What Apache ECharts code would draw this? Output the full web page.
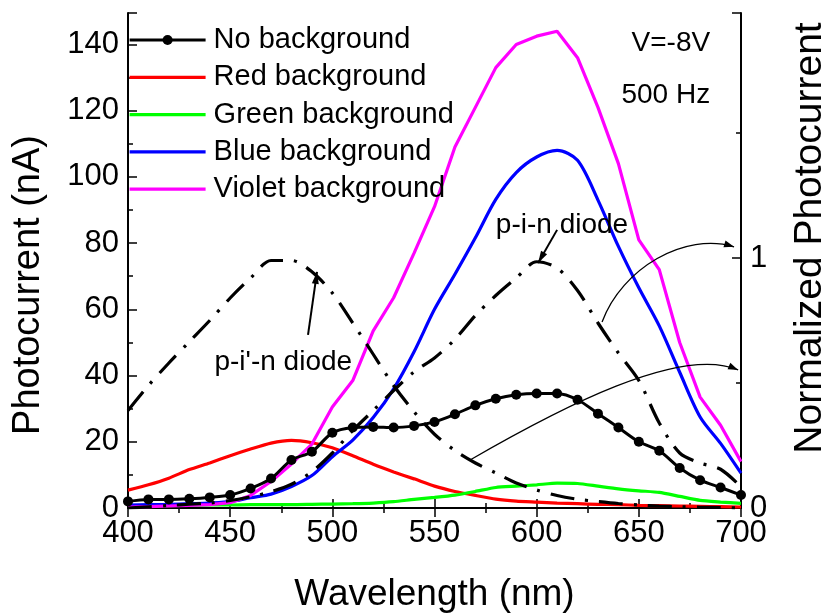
<!DOCTYPE html>
<html><head><meta charset="utf-8">
<script src="https://cdn.jsdelivr.net/npm/echarts@6/dist/echarts.min.js"></script>
<style>html,body{margin:0;padding:0;background:#fff}#c{width:831px;height:615px}</style>
</head><body><div id="c"></div>
<script>
// ---- data ----
const wavelengths = [400,410,420,430,440,450,460,470,480,490,500,510,520,530,540,550,560,570,580,590,600,610,620,630,640,650,660,670,680,690,700];
const noBackground = [2.0,2.6,2.6,2.8,3.2,3.9,5.9,8.9,14.5,17.0,22.7,24.3,24.5,24.3,24.8,26.0,28.3,31.0,33.0,34.2,34.6,34.6,32.7,28.5,24.3,20.0,17.3,12.1,8.4,6.2,3.9];
const redBackground = [5.4,7.0,9.0,11.6,13.6,15.8,17.8,19.6,20.4,19.7,18.2,15.8,13.2,10.9,8.8,6.6,5.0,3.8,2.7,2.1,1.8,1.5,1.3,1.1,1.0,0.8,0.7,0.6,0.5,0.4,0.3];
const greenBackground = [0.5,0.6,0.7,0.8,0.9,0.9,1.0,1.0,1.0,1.1,1.2,1.3,1.5,1.9,2.6,3.2,3.9,5.0,6.2,6.6,7.0,7.5,7.4,6.6,5.8,5.2,4.7,3.5,2.3,1.8,1.4];
const blueBackground = [0.9,1.0,1.1,1.3,1.5,1.9,3.1,4.2,6.5,9.8,15.5,20.5,27.3,36.0,47.2,60.0,70.6,81.6,93.2,101.3,106.0,108.0,105.0,93.0,79.0,66.5,55.0,41.0,27.5,19.5,10.5];
const violetBackground = [0.3,0.4,0.6,0.8,1.0,1.6,3.8,8.0,13.3,19.3,30.5,38.5,53.5,63.5,77.0,91.0,109.0,121.0,133.0,140.0,142.5,144.0,136.0,121.0,104.0,81.0,72.0,50.0,33.5,25.0,14.0];
const pinNormalized = [0.0,0.005,0.01,0.015,0.02,0.03,0.045,0.065,0.095,0.145,0.22,0.31,0.39,0.47,0.545,0.60,0.675,0.77,0.85,0.92,0.985,0.96,0.87,0.74,0.62,0.51,0.34,0.22,0.18,0.155,0.085];
const pipnNormalized = [0.39,0.49,0.58,0.665,0.75,0.84,0.92,0.99,0.99,0.945,0.86,0.74,0.615,0.49,0.385,0.295,0.23,0.18,0.14,0.1,0.072,0.05,0.035,0.026,0.018,0.012,0.008,0.005,0.003,0.002,0.0];
const legendNames = ['No background','Red background','Green background','Blue background','Violet background'];
const seriesColors = ['#000000','#ff0000','#00ff00','#0000ff','#ff00ff'];

const FONT = "'Liberation Sans', Arial, sans-serif";
const pair = vals => wavelengths.map((w, i) => [w, vals[i]]);
const NOFILL = 'rgba(0,0,0,0)';

const chart = echarts.init(document.getElementById('c'), null, {renderer: 'canvas'});

const option = {
  animation: false,
  backgroundColor: '#fff',
  grid: {left: 128, right: 90, top: 13, bottom: 107, containLabel: false, outerBoundsMode: 'none'},
  legend: {
    data: legendNames,
    orient: 'vertical', left: 128, top: 25, padding: 0,
    itemWidth: 76, itemHeight: 12.5, itemGap: 7.3,
    lineStyle: {width: 'inherit'},
    textStyle: {fontFamily: FONT, fontSize: 29, color: '#000', lineHeight: 30, padding: [0, 0, 0, 3]}
  },
  xAxis: [{
    type: 'value', min: 400, max: 700, interval: 50, position: 'bottom',
    name: 'Wavelength (nm)', nameLocation: 'middle', nameGap: 68,
    nameTextStyle: {fontFamily: FONT, fontSize: 37, color: '#000'},
    axisLine: {lineStyle: {color: '#000', width: 2}},
    axisTick: {inside: true, length: 9, lineStyle: {color: '#000', width: 1.5}},
    minorTick: {show: true, splitNumber: 2, length: 5, lineStyle: {color: '#000', width: 1.5}},
    axisLabel: {fontFamily: FONT, fontSize: 31, color: '#000', margin: 10},
    splitLine: {show: false}
  }, {
    type: 'value', min: 400, max: 700, interval: 50, position: 'top',
    axisLine: {lineStyle: {color: '#000', width: 2}},
    axisTick: {inside: true, length: 9, lineStyle: {color: '#000', width: 1.5}},
    minorTick: {show: true, splitNumber: 2, length: 5, lineStyle: {color: '#000', width: 1.5}},
    axisLabel: {show: false}, splitLine: {show: false}
  }],
  yAxis: [{
    type: 'value', min: 0, max: 149.5, interval: 20, position: 'left',
    axisLine: {show: true, lineStyle: {color: '#000', width: 2}},
    axisTick: {inside: true, length: 9, lineStyle: {color: '#000', width: 1.5}},
    minorTick: {show: true, splitNumber: 2, length: 5, lineStyle: {color: '#000', width: 1.5}},
    axisLabel: {fontFamily: FONT, fontSize: 31, color: '#000', margin: 9,
      formatter: v => (Math.abs(v % 20) < 1e-9 ? String(v) : '')},
    splitLine: {show: false}
  }, {
    type: 'value', min: 0, max: 1.98, interval: 1, position: 'right',
    axisLine: {show: true, lineStyle: {color: '#000', width: 2}},
    axisTick: {inside: true, length: 9, lineStyle: {color: '#000', width: 1.5}},
    minorTick: {show: true, splitNumber: 2, length: 5, lineStyle: {color: '#000', width: 1.5}},
    axisLabel: {fontFamily: FONT, fontSize: 31, color: '#000', margin: 9,
      formatter: v => (v === 0 || v === 1 ? String(v) : '')},
    splitLine: {show: false}
  }],
  series: [
    {name: legendNames[1], type: 'line', data: pair(redBackground), symbol: 'none', smooth: 0.2,
     lineStyle: {color: seriesColors[1], width: 3.2}, itemStyle: {color: NOFILL, borderWidth: 0}, z: 2},
    {name: legendNames[2], type: 'line', data: pair(greenBackground), symbol: 'none', smooth: 0.2,
     lineStyle: {color: seriesColors[2], width: 3.2}, itemStyle: {color: NOFILL, borderWidth: 0}, z: 2},
    {name: legendNames[3], type: 'line', data: pair(blueBackground), symbol: 'none', smooth: 0.3,
     lineStyle: {color: seriesColors[3], width: 3.2}, itemStyle: {color: NOFILL, borderWidth: 0}, z: 2},
    {name: legendNames[4], type: 'line', data: pair(violetBackground), symbol: 'none', smooth: false,
     lineStyle: {color: seriesColors[4], width: 3.2}, itemStyle: {color: NOFILL, borderWidth: 0}, z: 2},
    {name: legendNames[0], type: 'line', data: pair(noBackground), symbol: 'circle', symbolSize: 10, smooth: 0.3,
     lineStyle: {color: '#000', width: 3}, itemStyle: {color: '#000'}, z: 3},
    {name: 'p-i-n diode', type: 'line', yAxisIndex: 1, data: pair(pinNormalized), symbol: 'none', smooth: 0.3,
     lineStyle: {color: '#000', width: 3.2, type: [24, 11, 3, 11]}, z: 4},
    {name: "p-i'-n diode", type: 'line', yAxisIndex: 1, data: pair(pipnNormalized), symbol: 'none', smooth: 0.3,
     lineStyle: {color: '#000', width: 3.2, type: [24, 11, 3, 11]}, z: 4}
  ]
};
chart.setOption(option);

// ---- annotations, placed in data coordinates (wavelength, nA) ----
const textNotes = [
  {text: "p-i'-n diode", at: [476, 44.1], align: 'center', size: 28},
  {text: 'p-i-n diode', at: [612.4, 85.5], align: 'center', size: 28},
  {text: 'V=-8V', at: [684.9, 140.5], align: 'right', size: 28},
  {text: '500 Hz', at: [684.9, 124.5], align: 'right', size: 28}
];
const straightArrows = [
  {from: [488.1, 52.3], to: [492.5, 71.3]},
  {from: [610, 84], to: [600.7, 74]}
];
const curvedArrows = [
  {from: [632.0, 56.2], c1: [641.8, 72.5], c2: [672.6, 83.4], to: [696.6, 78.9]},
  {from: [567.4, 14.5], c1: [611.5, 30.2], c2: [670.2, 49.2], to: [698.6, 41.7]}
];

const P = d => chart.convertToPixel({seriesIndex: 4}, d);
function head(tip, from, L, W) {
  const dx = tip[0] - from[0], dy = tip[1] - from[1];
  const len = Math.hypot(dx, dy) || 1;
  const ux = dx / len, uy = dy / len;
  const bx = tip[0] - ux * L, by = tip[1] - uy * L;
  return {type: 'polygon', shape: {points: [tip, [bx - uy * W, by + ux * W], [bx + uy * W, by - ux * W]]},
          style: {fill: '#000'}, z: 50};
}
const graphics = [];
textNotes.forEach(n => {
  const p = P(n.at);
  graphics.push({type: 'text', x: p[0], y: p[1], z: 50,
    style: {text: n.text, fill: '#000', font: n.size + 'px ' + FONT, textAlign: n.align, textVerticalAlign: 'middle'}});
});
straightArrows.forEach(a => {
  const f = P(a.from), t = P(a.to);
  graphics.push({type: 'line', shape: {x1: f[0], y1: f[1], x2: t[0], y2: t[1]}, style: {stroke: '#000', lineWidth: 2}, z: 50});
  graphics.push(head(t, f, 12, 3.5));
});
curvedArrows.forEach(a => {
  const f = P(a.from), c1 = P(a.c1), c2 = P(a.c2), t = P(a.to);
  graphics.push({type: 'bezierCurve', shape: {x1: f[0], y1: f[1], cpx1: c1[0], cpy1: c1[1], cpx2: c2[0], cpy2: c2[1], x2: t[0], y2: t[1]},
    style: {stroke: '#000', lineWidth: 1.3, fill: null}, z: 50});
  graphics.push(head(t, c2, 10, 3.5));
});
// axis titles (vertical)
graphics.push({type: 'text', x: 29, y: 285, rotation: Math.PI / 2, z: 50,
  style: {text: 'Photocurrent (nA)', fill: '#000', font: '38px ' + FONT, textAlign: 'center', textVerticalAlign: 'middle'}});
graphics.push({type: 'text', x: 810, y: 238, rotation: Math.PI / 2, z: 50,
  style: {text: 'Normalized Photocurrent', fill: '#000', font: '39px ' + FONT, textAlign: 'center', textVerticalAlign: 'middle'}});
chart.setOption({graphic: graphics});
</script>
</body></html>
